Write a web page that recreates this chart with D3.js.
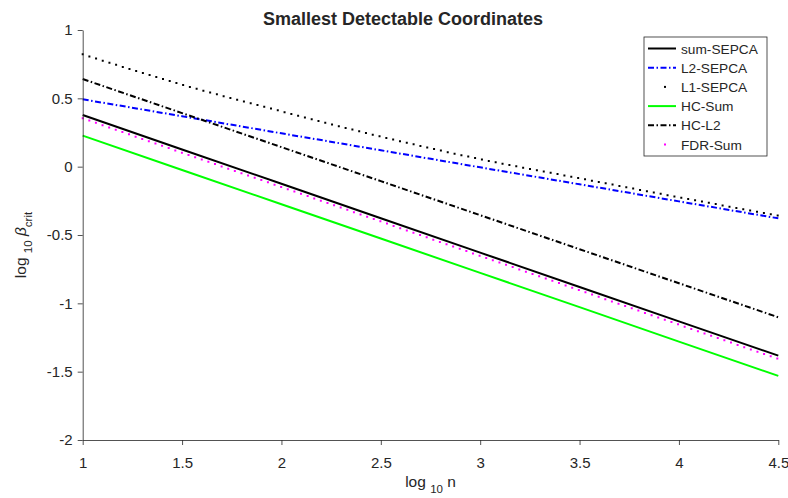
<!DOCTYPE html>
<html>
<head>
<meta charset="utf-8">
<script src="https://cdn.jsdelivr.net/npm/d3@7"></script>
<style>
    body{margin:0;background:#fff;}
    text{font-family:"Liberation Sans",Arial,Helvetica,sans-serif;fill:#262626;}
</style>
</head>
<body>
<div id="chart"></div>
<script>
/* #########################################
#####        donnees du graphique       ####
############################################ */
var logN = [1, 1.5, 2, 2.5, 3, 3.5, 4, 4.5];

var sumSEPCA = [0.378, 0.126, -0.125, -0.377, -0.629, -0.880, -1.132, -1.383];
var l2SEPCA  = [0.493, 0.369, 0.244, 0.120, -0.005, -0.129, -0.254, -0.378];
var l1SEPCA  = [0.822, 0.600, 0.405, 0.220, 0.055, -0.085, -0.224, -0.358];
var hcSum    = [0.227, -0.024, -0.275, -0.526, -0.777, -1.028, -1.280, -1.531];
var hcL2     = [0.641, 0.392, 0.143, -0.106, -0.355, -0.604, -0.853, -1.102];
var fdrSum   = [0.354, 0.102, -0.149, -0.401, -0.653, -0.904, -1.156, -1.407];

var seriesNames = ["sum-SEPCA", "L2-SEPCA", "L1-SEPCA", "HC-Sum", "HC-L2", "FDR-Sum"];

var xTicks = [1, 1.5, 2, 2.5, 3, 3.5, 4, 4.5];
var yTicks = [-2, -1.5, -1, -0.5, 0, 0.5, 1];

/* styles des courbes, dans l'ordre de seriesNames */
var styles = [
    {color:"#000000", width:2, dash:null,            cap:"butt",   curve:d3.curveLinear},
    {color:"#0000ff", width:2, dash:"6,2.5,1.5,2.5", cap:"butt",   curve:d3.curveLinear},
    {color:"#000000", width:2, dash:"0,7",           cap:"square", curve:d3.curveMonotoneX},
    {color:"#00ff00", width:2, dash:null,            cap:"butt",   curve:d3.curveLinear},
    {color:"#000000", width:2, dash:"6,2.5,1.5,2.5", cap:"butt",   curve:d3.curveLinear},
    {color:"#ff00ff", width:2, dash:"0,7",           cap:"square", curve:d3.curveLinear}
];
var allSeries = [sumSEPCA, l2SEPCA, l1SEPCA, hcSum, hcL2, fdrSum];

/* #########################################
#####            Partie svg             ####
############################################ */
var W = 788, H = 498;
var mLeft = 82.7, mRight = 778.3, mTop = 30, mBottom = 440;

var svg = d3.select('#chart').append('svg').attr('width', W).attr('height', H);

var x = d3.scaleLinear().domain([1, 4.5]).range([mLeft, mRight]);
var y = d3.scaleLinear().domain([-2, 1]).range([mBottom, mTop]);

// courbes
var line = d3.line();
allSeries.forEach(function(vals, i){
    var st = styles[i];
    var pts = logN.map(function(d, k){ return [x(d), y(vals[k])]; });
    var path = svg.append('path')
        .attr('d', line.curve(st.curve)(pts))
        .attr('fill', 'none')
        .attr('stroke', st.color)
        .attr('stroke-width', st.width)
        .attr('stroke-linecap', st.cap);
    if(st.dash) path.attr('stroke-dasharray', st.dash);
});

// axes
var xAxis = d3.axisBottom(x).tickValues(xTicks).tickSize(5).tickSizeOuter(0)
    .tickFormat(function(d){ return String(d); });
var yAxis = d3.axisLeft(y).tickValues(yTicks).tickSize(5).tickSizeOuter(0)
    .tickFormat(function(d){ return String(d); });

var gx = svg.append('g').attr('transform', 'translate(0,' + mBottom + ')').call(xAxis);
var gy = svg.append('g').attr('transform', 'translate(' + mLeft + ',0)').call(yAxis);

[gx, gy].forEach(function(g){
    g.select('.domain').attr('stroke', '#262626').attr('stroke-width', 0.8);
    g.selectAll('.tick line').attr('stroke', '#262626').attr('stroke-width', 0.8);
    g.selectAll('.tick text').style('font-size', '15px').attr('fill', '#262626');
});
gx.selectAll('.tick text').attr('dy', null).attr('y', 28);
gy.selectAll('.tick text').attr('x', -10);

// titre
svg.append('text')
    .attr('x', 403).attr('y', 25)
    .attr('text-anchor', 'middle')
    .style('font-size', '18px').style('font-weight', 'bold')
    .attr('fill', '#000')
    .text('Smallest Detectable Coordinates');

// label axe x : log_10 n
var xl = svg.append('text')
    .attr('x', (mLeft + mRight) / 2).attr('y', 487)
    .attr('text-anchor', 'middle')
    .style('font-size', '15.5px');
xl.append('tspan').text('log ');
xl.append('tspan').attr('dy', 6).style('font-size', '11.5px').text('10');
xl.append('tspan').attr('dy', -6).text(' n');

// label axe y : log_10 beta_crit
var yl = svg.append('text')
    .attr('transform', 'translate(26,' + 245 + ') rotate(-90)')
    .attr('text-anchor', 'middle')
    .style('font-size', '15.5px');
yl.append('tspan').text('log ');
yl.append('tspan').attr('dy', 6).style('font-size', '11.5px').text('10');
yl.append('tspan').attr('dy', -6).style('font-style', 'italic').text(' \u03b2');
yl.append('tspan').attr('dy', 6).style('font-size', '11.5px').text('crit');

/* #########################################
#####              Legende              ####
############################################ */
var lg = svg.append('g').attr('transform', 'translate(644,37)');
var rowH = 19.2;
lg.append('rect')
    .attr('x', 0).attr('y', 0)
    .attr('width', 123).attr('height', 119)
    .attr('fill', '#fff').attr('stroke', '#262626').attr('stroke-width', 0.8);

seriesNames.forEach(function(name, i){
    var st = styles[i];
    var cy = 11.5 + i * rowH;
    if(st.cap == "square"){
        // marqueur seul
        lg.append('rect')
            .attr('x', 20).attr('y', cy - 1).attr('width', 2).attr('height', 2)
            .attr('fill', st.color);
    }
    else{
        var seg = lg.append('line')
            .attr('x1', 4).attr('x2', 32).attr('y1', cy).attr('y2', cy)
            .attr('stroke', st.color).attr('stroke-width', st.width);
        if(st.dash) seg.attr('stroke-dasharray', st.dash);
    }
    lg.append('text')
        .attr('x', 37).attr('y', cy + 5)
        .style('font-size', '13.7px').attr('fill', '#000')
        .text(name);
});
</script>
</body>
</html>
